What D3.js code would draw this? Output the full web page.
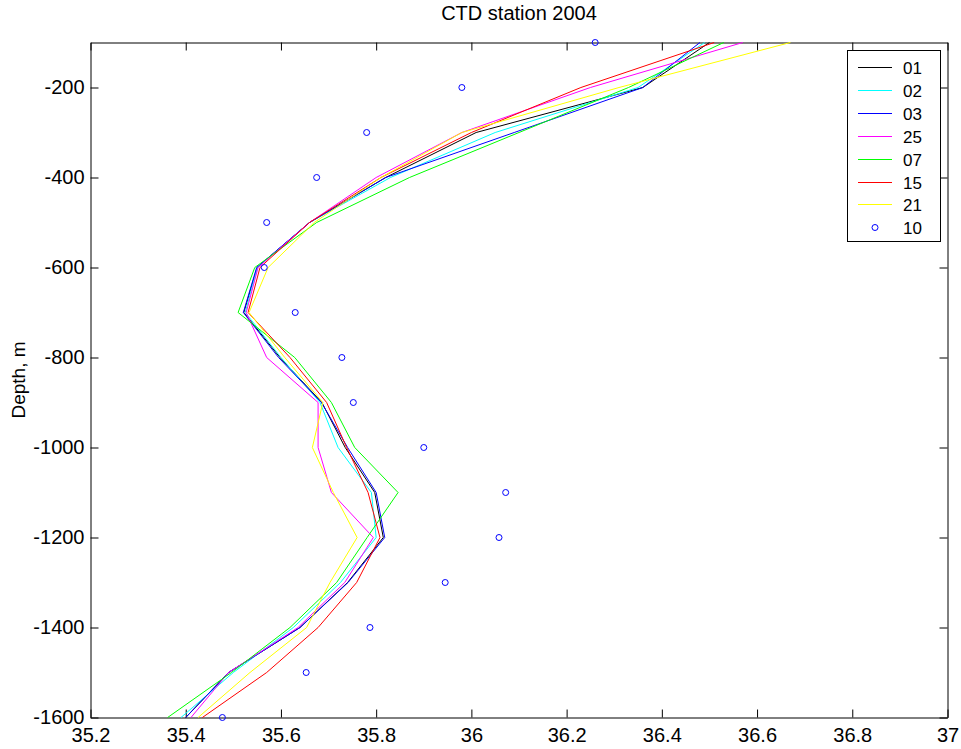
<!DOCTYPE html>
<html>
<head>
<meta charset="utf-8">
<script src="https://cdn.jsdelivr.net/npm/d3@7"></script>
<style>
  body { margin: 0; background: #fff; }
  svg text { font-family: "Liberation Sans", Arial, Helvetica, sans-serif; fill: #000; }
</style>
</head>
<body>
<svg id="chart" width="961" height="749"></svg>
<script>
// Sample depths (m) shared by every cast
const depths = [-100, -200, -300, -400, -500, -600, -700, -800, -900, -1000, -1100, -1200, -1300, -1400, -1500, -1600];

// Salinity profiles for each cast
const s01 = [36.50, 36.36, 36.01, 35.82, 35.66, 35.550, 35.522, 35.598, 35.686, 35.735, 35.797, 35.815, 35.740, 35.640, 35.490, 35.400];
const s02 = [36.49, 36.35, 36.05, 35.83, 35.66, 35.550, 35.525, 35.600, 35.682, 35.720, 35.790, 35.800, 35.725, 35.626, 35.500, 35.390];
const s03 = [36.48, 36.36, 36.09, 35.82, 35.66, 35.549, 35.521, 35.595, 35.685, 35.740, 35.800, 35.818, 35.741, 35.640, 35.490, 35.400];
const s25 = [36.57, 36.25, 35.98, 35.80, 35.66, 35.552, 35.527, 35.570, 35.678, 35.678, 35.706, 35.794, 35.734, 35.636, 35.490, 35.411];
const s07 = [36.53, 36.33, 36.10, 35.87, 35.675, 35.545, 35.510, 35.629, 35.706, 35.755, 35.846, 35.781, 35.717, 35.619, 35.496, 35.362];
const s15 = [36.51, 36.23, 36.00, 35.81, 35.66, 35.556, 35.531, 35.619, 35.696, 35.738, 35.783, 35.808, 35.759, 35.678, 35.570, 35.435];
const s21 = [36.67, 36.31, 35.98, 35.81, 35.67, 35.573, 35.533, 35.608, 35.688, 35.666, 35.710, 35.760, 35.703, 35.654, 35.535, 35.426];
// Cast 10, drawn as markers only
const s10 = [36.26, 35.98, 35.78, 35.675, 35.57, 35.565, 35.63, 35.728, 35.752, 35.90, 36.072, 36.058, 35.945, 35.787, 35.653, 35.477];

const lineNames = ["01", "02", "03", "25", "07", "15", "21"];
const lineValues = [s01, s02, s03, s25, s07, s15, s21];
const lineColors = ["#000000", "#00ffff", "#0000ff", "#ff00ff", "#00ff00", "#ff0000", "#ffff00"];
const markerName = "10";
const markerColor = "#0000ff";

const xTicks = [35.2, 35.4, 35.6, 35.8, 36, 36.2, 36.4, 36.6, 36.8, 37];
const yTicks = [-200, -400, -600, -800, -1000, -1200, -1400, -1600];
const titleText = "CTD station 2004";
const yLabel = "Depth, m";

const svg = d3.select("#chart");
const L = 90.5, R = 947.5, T = 42.5, B = 717.5;

const x = d3.scaleLinear().domain([35.2, 37]).range([L, R]);
const y = d3.scaleLinear().domain([-100, -1600]).range([T, B]);
// Plain hyphen-minus for negative labels
const fmt = d => String(+d.toFixed(1));

// Axes: labelled bottom/left, tick-only top/right, all ticks pointing inward
const gx = svg.append("g").attr("transform", `translate(0,${B})`)
  .call(d3.axisBottom(x).tickValues(xTicks).tickSizeInner(-8).tickSizeOuter(0).tickPadding(10).tickFormat(fmt));
const gy = svg.append("g").attr("transform", `translate(${L},0)`)
  .call(d3.axisLeft(y).tickValues(yTicks).tickSizeInner(-8).tickSizeOuter(0).tickPadding(6).tickFormat(fmt));
const gt = svg.append("g").attr("transform", `translate(0,${T})`)
  .call(d3.axisTop(x).tickValues(xTicks).tickSizeInner(-8).tickSizeOuter(0).tickFormat(""));
const gr = svg.append("g").attr("transform", `translate(${R},0)`)
  .call(d3.axisRight(y).tickValues(yTicks).tickSizeInner(-8).tickSizeOuter(0).tickFormat(""));

[gx, gy, gt, gr].forEach(g => {
  g.select(".domain").attr("stroke", "#000").attr("stroke-width", 1);
  g.selectAll(".tick line").attr("stroke", "#000");
  g.selectAll(".tick text").attr("font-size", 20).attr("fill", "#000")
    .style("font-family", '"Liberation Sans", Arial, sans-serif');
});

// Profiles
const line = d3.line().x(d => x(d[0])).y(d => y(d[1]));
lineValues.forEach((vals, i) => {
  svg.append("path")
    .datum(vals.map((v, j) => [v, depths[j]]))
    .attr("fill", "none")
    .attr("stroke", lineColors[i])
    .attr("stroke-width", 1)
    .attr("d", line);
});

// Cast 10 markers
svg.append("g").selectAll("circle")
  .data(s10.map((v, j) => [v, depths[j]]))
  .join("circle")
  .attr("cx", d => x(d[0]))
  .attr("cy", d => y(d[1]))
  .attr("r", 3)
  .attr("fill", "none")
  .attr("stroke", markerColor)
  .attr("stroke-width", 1);

// Title and axis label
svg.append("text").attr("x", (L + R) / 2).attr("y", 20)
  .attr("text-anchor", "middle").attr("font-size", 20).text(titleText);
svg.append("text").attr("transform", `translate(25,${(T + B) / 2}) rotate(-90)`)
  .attr("text-anchor", "middle").attr("font-size", 19).text(yLabel);

// Legend
const lg = svg.append("g");
const lgX = 847.5, lgY = 50.5, rowH = 22.9, rowY0 = 67;
lg.append("rect").attr("x", lgX).attr("y", lgY).attr("width", 93).attr("height", 191)
  .attr("fill", "#fff").attr("stroke", "#000").attr("stroke-width", 1);
const entries = lineNames.map((n, i) => ({ name: n, color: lineColors[i], marker: false }))
  .concat([{ name: markerName, color: markerColor, marker: true }]);
entries.forEach((e, i) => {
  const cy = Math.round(rowY0 + i * rowH) + 0.5;
  if (e.marker) {
    lg.append("circle").attr("cx", 875).attr("cy", cy).attr("r", 3)
      .attr("fill", "none").attr("stroke", e.color).attr("stroke-width", 1);
  } else {
    lg.append("line").attr("x1", 858).attr("x2", 892).attr("y1", cy).attr("y2", cy)
      .attr("stroke", e.color).attr("stroke-width", 1);
  }
  lg.append("text").attr("x", 903).attr("y", cy).attr("dy", "0.36em")
    .attr("font-size", 17).text(e.name);
});
</script>
</body>
</html>
